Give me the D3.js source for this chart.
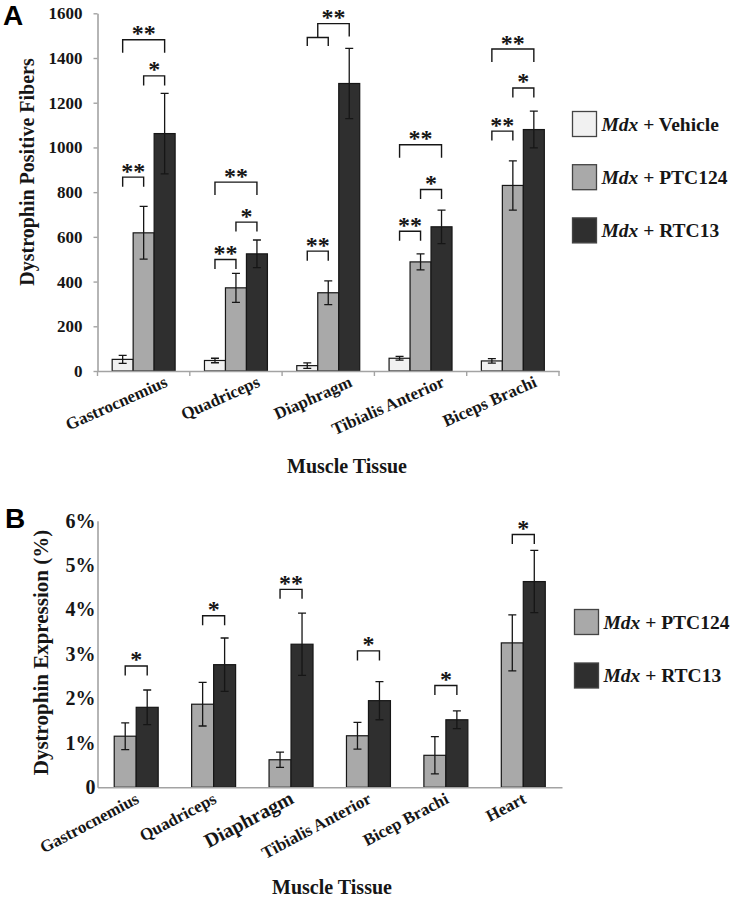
<!DOCTYPE html>
<html><head><meta charset="utf-8">
<script src="https://cdn.jsdelivr.net/npm/d3@7/dist/d3.min.js"></script>
<style>
body{margin:0;background:#fff;}
svg{display:block;font-family:"Liberation Serif","Times New Roman",serif;}
</style></head><body>
<svg id="chart" width="742" height="900"></svg>
<script>
// ---------- Panel A data ----------
const categoriesA = ["Gastrocnemius", "Quadriceps", "Diaphragm", "Tibialis Anterior", "Biceps Brachi"];
const seriesA = ["Vehicle", "PTC124", "RTC13"];
const vehicleA = [52, 47, 24, 57, 45];
const vehicleErrA = [18, 10, 12, 8, 10];
const ptcA = [618, 372, 350, 488, 830];
const ptcErrA = [118, 65, 53, 36, 110];
const rtcA = [1062, 524, 1286, 645, 1080];
const rtcErrA = [180, 62, 157, 75, 82];
const yTicksA = [0, 200, 400, 600, 800, 1000, 1200, 1400, 1600];
// significance brackets: category, series index a -> b, bracket level (data units), label
const bracketsA = [
  ["Gastrocnemius", 0, 1, 867, "**"], ["Gastrocnemius", 1, 2, 1320, "*"], ["Gastrocnemius", 0, 2, 1482, "**"],
  ["Quadriceps", 0, 1, 499, "**"], ["Quadriceps", 1, 2, 666, "*"], ["Quadriceps", 0, 2, 845, "**"],
  ["Diaphragm", 0, 1, 536, "**"],
  ["Tibialis Anterior", 0, 1, 625, "**"], ["Tibialis Anterior", 1, 2, 812, "*"], ["Tibialis Anterior", 0, 2, 1012, "**"],
  ["Biceps Brachi", 0, 1, 1073, "**"], ["Biceps Brachi", 1, 2, 1266, "*"], ["Biceps Brachi", 0, 2, 1440, "**"]
];
// nested bracket: (pair a-b) vs c, inner level, outer level
const nestedA = [["Diaphragm", 0, 1, 2, 1492, 1554, "**"]];

// ---------- Panel B data ----------
const categoriesB = ["Gastrocnemius", "Quadriceps", "Diaphragm", "Tibialis Anterior", "Bicep Brachi", "Heart"];
const seriesB = ["PTC124", "RTC13"];
const ptcB = [1.15, 1.87, 0.62, 1.16, 0.72, 3.25];
const ptcErrB = [0.30, 0.49, 0.17, 0.30, 0.42, 0.63];
const rtcB = [1.80, 2.76, 3.22, 1.95, 1.52, 4.63];
const rtcErrB = [0.39, 0.60, 0.70, 0.43, 0.20, 0.70];
const yTicksB = [0, 1, 2, 3, 4, 5, 6];
const yTickLabelsB = ["0", "1%", "2%", "3%", "4%", "5%", "6%"];
const bracketsB = [
  ["Gastrocnemius", 0, 1, 2.73, "*"], ["Quadriceps", 0, 1, 3.86, "*"], ["Diaphragm", 0, 1, 4.455, "**"],
  ["Tibialis Anterior", 0, 1, 3.07, "*"], ["Bicep Brachi", 0, 1, 2.29, "*"], ["Heart", 0, 1, 5.69, "*"]
];
const largeLabelsB = ["Diaphragm"];

const colorMap = {"Vehicle": "#f1f1f1", "PTC124": "#a9a9a9", "RTC13": "#2f2f2f"};
const legendPrefix = "Mdx";

const svg = d3.select("#chart");
const AXIS = "#a3a3a3";
const INK = "#161616";

function panel(opt) {
  const g = svg.append("g");
  const x0 = d3.scaleBand().domain(opt.categories).range(opt.xRange).padding(0);
  const bw = x0.bandwidth();
  const x1 = d3.scaleBand().domain(opt.series.map((d, i) => i))
    .range([bw * (1 - opt.groupFrac) / 2, bw * (1 + opt.groupFrac) / 2]).padding(0);
  const y = d3.scaleLinear().domain(opt.yDomain).range(opt.yRange);

  // y axis
  const ya = g.append("g").attr("transform", `translate(${opt.xRange[0]},0)`)
    .call(d3.axisLeft(y).tickValues(opt.yTicks).tickSize(opt.yTickSize).tickPadding(opt.yTickPad)
      .tickSizeOuter(0).tickFormat((d, i) => opt.yTickLabels ? opt.yTickLabels[i] : d));
  ya.select(".domain").attr("stroke", AXIS).attr("stroke-width", 1.6);
  ya.selectAll(".tick line").attr("stroke", AXIS).attr("stroke-width", 1.4);
  ya.selectAll(".tick text").attr("font-size", opt.yFont).attr("font-weight", "bold")
    .attr("fill", INK).attr("font-family", "Liberation Serif, serif");

  // bars
  const barData = [];
  opt.categories.forEach((c, ci) => {
    opt.series.forEach((s, si) => {
      barData.push({c, si, s, v: opt.values[si][ci], e: opt.errors[si][ci]});
    });
  });
  const bx = d => x0(d.c) + x1(d.si);
  g.append("g").selectAll("rect").data(barData).join("rect")
    .attr("x", bx).attr("width", x1.bandwidth())
    .attr("y", d => y(d.v)).attr("height", d => y(0) - y(d.v))
    .attr("fill", d => colorMap[d.s]).attr("stroke", INK).attr("stroke-width", 1.2);

  // error bars
  const eg = g.append("g").attr("stroke", INK).attr("stroke-width", 1.3).attr("fill", "none");
  barData.forEach(d => {
    const cx = bx(d) + x1.bandwidth() / 2;
    eg.append("path").attr("d",
      `M${cx},${y(d.v + d.e)}V${y(d.v - d.e)}M${cx - 4},${y(d.v + d.e)}H${cx + 4}M${cx - 4},${y(d.v - d.e)}H${cx + 4}`);
  });

  // x axis
  const xa = g.append("g").attr("transform", `translate(0,${y(0)})`)
    .call(d3.axisBottom(x0).tickSize(0).tickFormat(""));
  xa.select(".domain").attr("stroke", AXIS).attr("stroke-width", 1.6);
  if (opt.xBoundaryTicks) {
    const bounds = opt.categories.map(c => x0(c)).concat([opt.xRange[1]]);
    xa.selectAll(".bt").data(bounds).join("line").attr("class", "bt")
      .attr("x1", d => d).attr("x2", d => d).attr("y1", 0).attr("y2", 5)
      .attr("stroke", AXIS).attr("stroke-width", 1.4);
  }

  // x labels
  g.append("g").selectAll("text").data(opt.categories).join("text")
    .attr("transform", d => `translate(${x0(d) + bw / 2 + opt.labelDx},${y(0) + opt.labelDy}) rotate(${opt.labelRot})`)
    .attr("text-anchor", "end").attr("font-weight", "bold")
    .attr("font-size", d => (opt.largeLabels && opt.largeLabels.includes(d)) ? opt.labelFontLarge : opt.labelFont)
    .attr("fill", INK).text(d => d);

  // axis titles
  g.append("text").attr("x", opt.xTitlePos[0]).attr("y", opt.xTitlePos[1]).attr("text-anchor", "middle")
    .attr("font-size", 20).attr("font-weight", "bold").attr("fill", INK).text("Muscle Tissue");
  g.append("text").attr("transform", `translate(${opt.yTitlePos[0]},${opt.yTitlePos[1]}) rotate(-90)`)
    .attr("text-anchor", "middle").attr("font-size", opt.yTitleFont).attr("font-weight", "bold")
    .attr("fill", INK).text(opt.yTitle);

  // panel letter
  g.append("text").attr("x", opt.letterPos[0]).attr("y", opt.letterPos[1])
    .attr("font-family", "Liberation Sans, Arial, sans-serif").attr("font-size", 28)
    .attr("font-weight", "bold").attr("fill", "#000").text(opt.letter);

  // brackets
  const ctr = (c, si) => x0(c) + x1(si) + x1.bandwidth() / 2;
  const bg = g.append("g");
  const star = (xm, yl, label) => bg.append("text").attr("x", xm).attr("y", yl + opt.starDy)
    .attr("text-anchor", "middle").attr("font-size", 24).attr("font-weight", "bold")
    .attr("fill", INK).text(label);
  opt.brackets.forEach(([c, a, b, lvl, label]) => {
    const xa_ = ctr(c, a), xb_ = ctr(c, b), yl = y(lvl);
    const leg = (b - a) > 1 ? 13 : 9.5;
    bg.append("path").attr("d", `M${xa_},${yl + leg}V${yl}H${xb_}V${yl + leg}`)
      .attr("fill", "none").attr("stroke", INK).attr("stroke-width", 1.4);
    star((xa_ + xb_) / 2, yl, label);
  });
  (opt.nested || []).forEach(([c, a, b, d, lvl1, lvl2, label]) => {
    const xa_ = ctr(c, a), xb_ = ctr(c, b), xd = ctr(c, d), y1 = y(lvl1), y2 = y(lvl2);
    const xm = (xa_ + xb_) / 2;
    bg.append("path").attr("d", `M${xa_},${y1 + 8.5}V${y1}H${xb_}V${y1 + 8.5}M${xm},${y1}V${y2}H${xd}V${y1 - 1}`)
      .attr("fill", "none").attr("stroke", INK).attr("stroke-width", 1.4);
    star((xm + xd) / 2, y2, label);
  });

  // legend
  const lg = g.append("g");
  opt.series.forEach((s, i) => {
    const yy = opt.legendPos[1] + i * opt.legendStep;
    lg.append("rect").attr("x", opt.legendPos[0]).attr("y", yy).attr("width", 24).attr("height", 25)
      .attr("fill", colorMap[s]).attr("stroke", "#444").attr("stroke-width", 1.3);
    const t = lg.append("text").attr("x", opt.legendPos[0] + 29).attr("y", yy + 19)
      .attr("font-size", 19.5).attr("font-weight", "bold").attr("fill", INK);
    t.append("tspan").attr("font-style", "italic").text(legendPrefix);
    t.append("tspan").text(" + " + s);
  });
}

panel({
  categories: categoriesA, series: seriesA,
  values: [vehicleA, ptcA, rtcA], errors: [vehicleErrA, ptcErrA, rtcErrA],
  xRange: [97.5, 559], groupFrac: 0.682,
  yDomain: [0, 1600], yRange: [371, 13.3], yTicks: yTicksA, yTickSize: 4, yTickPad: 11, yFont: 17,
  xBoundaryTicks: true,
  labelDx: 25, labelDy: 15, labelRot: -24, labelFont: 17,
  xTitlePos: [347, 473], yTitlePos: [34, 172], yTitleFont: 20, yTitle: "Dystrophin Positive Fibers",
  letter: "A", letterPos: [3, 25],
  brackets: bracketsA, nested: nestedA, starDy: 1.5,
  legendPos: [572.5, 111.5], legendStep: 53.2
});

panel({
  categories: categoriesB, series: seriesB,
  values: [ptcB, rtcB], errors: [ptcErrB, rtcErrB],
  xRange: [97.5, 562], groupFrac: 0.568,
  yDomain: [0, 6], yRange: [787.3, 520.7], yTicks: yTicksB, yTickLabels: yTickLabelsB,
  yTickSize: 0, yTickPad: 2, yFont: 20,
  xBoundaryTicks: false, largeLabels: largeLabelsB,
  labelDx: 4, labelDy: 15, labelRot: -28, labelFont: 17, labelFontLarge: 20,
  xTitlePos: [332, 894], yTitlePos: [47.5, 652.5], yTitleFont: 21, yTitle: "Dystrophin Expression (%)",
  letter: "B", letterPos: [5, 528],
  brackets: bracketsB, starDy: 1.5,
  legendPos: [574.5, 609.5], legendStep: 53.5
});
</script>
</body></html>
